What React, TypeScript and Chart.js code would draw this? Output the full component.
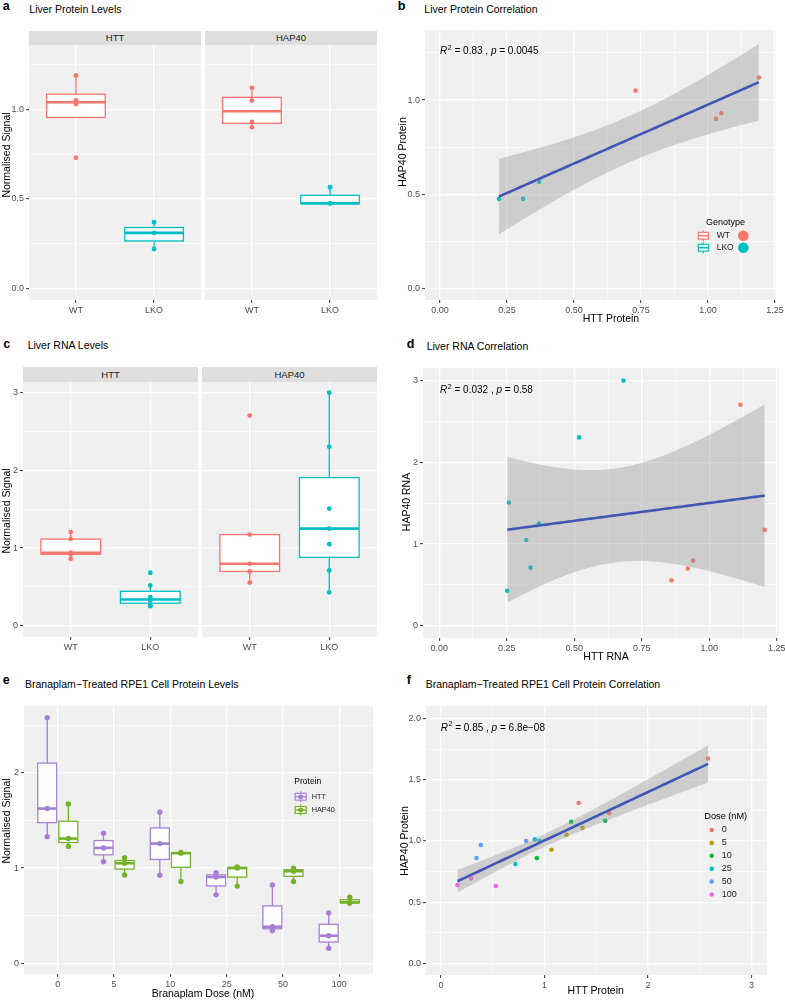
import React, { useEffect, useRef } from "react";
import { Chart, registerables } from "chart.js";

Chart.register(...registerables);

const FONT = "'Liberation Sans', Arial, Helvetica, sans-serif";

// ================= DATA =================
const GENOTYPES = ["WT", "LKO"];
// a / b : liver protein (paired per animal: HTT[i] <-> HAP40[i])
const PROT_HTT_WT = [0.73, 1.03, 1.05, 1.19];
const PROT_HAP40_WT = [1.05, 0.9, 0.93, 1.12];
const PROT_HTT_LKO = [0.22, 0.31, 0.37];
const PROT_HAP40_LKO = [0.475, 0.475, 0.565];
// c / d : liver RNA
const RNA_HTT_WT = [0.86, 0.92, 0.94, 1.115, 1.205];
const RNA_HAP40_WT = [0.556, 0.699, 0.797, 2.705, 1.173];
const RNA_HTT_LKO = [0.252, 0.258, 0.322, 0.338, 0.369, 0.518, 0.682];
const RNA_HAP40_LKO = [0.429, 1.508, 1.05, 0.711, 1.25, 2.305, 3.0];
// e / f : branaplam-treated RPE1 cells
const DOSES = ["0", "5", "10", "25", "50", "100"];
const CELL_HTT = [
  [2.58, 1.33, 1.625],
  [1.067, 1.212, 1.366],
  [1.257, 1.586, 0.925],
  [0.719, 0.906, 0.951],
  [0.822, 0.384, 0.342],
  [0.158, 0.29, 0.529],
];
const CELL_HAP40 = [
  [1.674, 1.31, 1.228],
  [0.928, 1.051, 1.108],
  [1.157, 1.165, 0.86],
  [0.811, 1.013, 1.0],
  [0.999, 0.967, 0.86],
  [0.64, 0.694, 0.632],
];
const CORR_B = ["0.83", "0.0045"];
const CORR_D = ["0.032", "0.58"];
const CORR_F = ["0.85", "6.8e\u221208"];
// Student t 0.975 quantiles for df = n - 2
const T_B = 2.5706;
const T_D = 2.2281;
const T_F = 2.1199;

// ================= STYLE =================
const C_WT = "#F8766D";
const C_LKO = "#00BFC4";
const C_HTT = "#A580D4";
const C_HAP = "#74B22A";
const DOSE_COLORS = ["#F8766D", "#B79F00", "#00BA38", "#00BFC4", "#619CFF", "#F564E3"];
const FIT = "#3F56B5";
const BAND = "rgba(153,153,153,0.4)";
const PANEL_BG = "#F0F0F0";
const STRIP_BG = "#DEDEDE";

const YW = 40; // y axis box width
const XH = 22; // x axis box height
const PT = 10; // top padding
const PR = 14; // right padding

type Axis = {
  min: number;
  max: number;
  major: number[];
  minor: number[];
  fmt: (v: number) => string;
  labels?: boolean;
  ticks?: boolean;
};
type Box = { x: number; hw: number; vals: number[]; color: string };
type LegendItem = { label: string; color: string; y: number };
type Legend = {
  title: string;
  titleX: number;
  titleY: number;
  titleSize: number;
  keyX: number;
  labelX: number;
  labelSize: number;
  key: "box" | "boxdot" | "dot";
  keyW: number;
  keyH: number;
  circleX?: number;
  items: LegendItem[];
};
type Spec = {
  key: string;
  area: [number, number, number, number];
  x: Axis;
  y: Axis;
  datasets: any[];
  boxes?: Box[];
  stat?: { x: number; y: number; r2: string; p: string };
  legend?: Legend;
};

// ================= HELPERS =================
function quant(s: number[], p: number) {
  const h = (s.length - 1) * p;
  const lo = Math.floor(h);
  const hi = Math.min(lo + 1, s.length - 1);
  return s[lo] + (h - lo) * (s[hi] - s[lo]);
}
function boxStats(vals: number[]) {
  const s = [...vals].sort((a, b) => a - b);
  const q1 = quant(s, 0.25);
  const med = quant(s, 0.5);
  const q3 = quant(s, 0.75);
  const iqr = q3 - q1;
  const inside = s.filter((v) => v >= q1 - 1.5 * iqr && v <= q3 + 1.5 * iqr);
  return { q1, med, q3, wl: Math.min(...inside), wh: Math.max(...inside) };
}
const at = (x: number, ys: number[]) => ys.map((y) => ({ x, y }));
const pair = (xs: number[], ys: number[]) => xs.map((x, i) => ({ x, y: ys[i] }));
function pointSet(data: any[], color: string, r: number) {
  return {
    type: "scatter",
    data,
    backgroundColor: color,
    borderColor: "rgba(0,0,0,0)",
    pointRadius: r,
    pointHoverRadius: r,
    pointBorderWidth: 0,
    order: 2,
  };
}
function fitSets(xs: number[], ys: number[], t: number) {
  const n = xs.length;
  const mx = xs.reduce((a, b) => a + b, 0) / n;
  const my = ys.reduce((a, b) => a + b, 0) / n;
  let sxx = 0;
  let sxy = 0;
  xs.forEach((x, i) => {
    sxx += (x - mx) ** 2;
    sxy += (x - mx) * (ys[i] - my);
  });
  const b = sxy / sxx;
  const a = my - b * mx;
  let sse = 0;
  xs.forEach((x, i) => (sse += (ys[i] - a - b * x) ** 2));
  const s = Math.sqrt(sse / (n - 2));
  const lo = Math.min(...xs);
  const hi = Math.max(...xs);
  const line: any[] = [];
  const up: any[] = [];
  const dn: any[] = [];
  for (let k = 0; k <= 80; k++) {
    const x = lo + ((hi - lo) * k) / 80;
    const yh = a + b * x;
    const se = s * Math.sqrt(1 / n + (x - mx) ** 2 / sxx);
    line.push({ x, y: yh });
    up.push({ x, y: yh + t * se });
    dn.push({ x, y: yh - t * se });
  }
  return [
    { type: "line", data: line, borderColor: FIT, borderWidth: 2.6, pointRadius: 0, fill: false, tension: 0, order: 0 },
    { type: "line", data: up, borderColor: "rgba(0,0,0,0)", borderWidth: 0, pointRadius: 0, fill: "+1", backgroundColor: BAND, tension: 0, order: 1 },
    { type: "line", data: dn, borderColor: "rgba(0,0,0,0)", borderWidth: 0, pointRadius: 0, fill: false, tension: 0, order: 1 },
  ];
}

const f1 = (v: number) => v.toFixed(1);
const f2 = (v: number) => v.toFixed(2);
const f0 = (v: number) => String(Math.round(v));

// ================= PANELS =================
const yA: Axis = { min: -0.065, max: 1.36, major: [0, 0.5, 1], minor: [0.25, 0.75, 1.25], fmt: f1 };
const yC: Axis = { min: -0.145, max: 3.137, major: [0, 1, 2, 3], minor: [0.5, 1.5, 2.5], fmt: f0 };
const xGeno: Axis = { min: 0.4, max: 2.6, major: [1, 2], minor: [], fmt: (v) => GENOTYPES[Math.round(v) - 1] };

function facet(key: string, area: [number, number, number, number], y: Axis, showY: boolean, wt: number[], lko: number[]): Spec {
  return {
    key,
    area,
    x: xGeno,
    y: { ...y, labels: showY, ticks: showY },
    datasets: [pointSet(at(1, wt), C_WT, 2.4), pointSet(at(2, lko), C_LKO, 2.4)],
    boxes: [
      { x: 1, hw: 0.375, vals: wt, color: C_WT },
      { x: 2, hw: 0.375, vals: lko, color: C_LKO },
    ],
  };
}

const genoLegend: Legend = {
  title: "Genotype",
  titleX: 706,
  titleY: 223,
  titleSize: 9,
  keyX: 703.3,
  labelX: 716.7,
  labelSize: 8.5,
  key: "box",
  keyW: 10,
  keyH: 11,
  circleX: 743.3,
  items: [
    { label: GENOTYPES[0], color: C_WT, y: 235.7 },
    { label: GENOTYPES[1], color: C_LKO, y: 247.7 },
  ],
};

const cellAllHTT = CELL_HTT.flat();
const cellAllHAP = CELL_HAP40.flat();

const PANELS: Spec[] = [
  facet("aHTT", [29, 45, 201, 300], yA, true, PROT_HTT_WT, PROT_HTT_LKO),
  facet("aHAP", [205, 45, 377, 300], yA, false, PROT_HAP40_WT, PROT_HAP40_LKO),
  {
    key: "b",
    area: [425, 30, 776, 300],
    x: { min: -0.056, max: 1.254, major: [0, 0.25, 0.5, 0.75, 1, 1.25], minor: [0.125, 0.375, 0.625, 0.875, 1.125], fmt: f2 },
    y: { min: -0.062, max: 1.372, major: [0, 0.5, 1], minor: [0.25, 0.75, 1.25], fmt: f1 },
    datasets: [
      ...fitSets([...PROT_HTT_WT, ...PROT_HTT_LKO], [...PROT_HAP40_WT, ...PROT_HAP40_LKO], T_B),
      pointSet(pair(PROT_HTT_WT, PROT_HAP40_WT), C_WT, 2.3),
      pointSet(pair(PROT_HTT_LKO, PROT_HAP40_LKO), C_LKO, 2.3),
    ],
    stat: { x: 440, y: 50.5, r2: CORR_B[0], p: CORR_B[1] },
    legend: genoLegend,
  },
  facet("cHTT", [23, 382, 198, 637], yC, true, RNA_HTT_WT, RNA_HTT_LKO),
  facet("cHAP", [202, 382, 377, 637], yC, false, RNA_HAP40_WT, RNA_HAP40_LKO),
  {
    key: "d",
    area: [423, 368, 779, 638],
    x: { min: -0.06, max: 1.258, major: [0, 0.25, 0.5, 0.75, 1, 1.25], minor: [0.125, 0.375, 0.625, 0.875, 1.125], fmt: f2 },
    y: { min: -0.15, max: 3.154, major: [0, 1, 2, 3], minor: [0.5, 1.5, 2.5], fmt: f0 },
    datasets: [
      ...fitSets([...RNA_HTT_WT, ...RNA_HTT_LKO], [...RNA_HAP40_WT, ...RNA_HAP40_LKO], T_D),
      pointSet(pair(RNA_HTT_WT, RNA_HAP40_WT), C_WT, 2.3),
      pointSet(pair(RNA_HTT_LKO, RNA_HAP40_LKO), C_LKO, 2.3),
    ],
    stat: { x: 440, y: 389.2, r2: CORR_D[0], p: CORR_D[1] },
  },
  {
    key: "e",
    area: [24, 706, 373, 974],
    x: { min: 0.4, max: DOSES.length + 0.6, major: DOSES.map((_, i) => i + 1), minor: [], fmt: (v) => DOSES[Math.round(v) - 1] },
    y: { min: -0.112, max: 2.702, major: [0, 1, 2], minor: [0.5, 1.5, 2.5], fmt: f0 },
    datasets: [
      ...CELL_HTT.map((vals, i) => pointSet(at(i + 1 - 0.1875, vals), C_HTT, 2.7)),
      ...CELL_HAP40.map((vals, i) => pointSet(at(i + 1 + 0.1875, vals), C_HAP, 2.7)),
    ],
    boxes: [
      ...CELL_HTT.map((vals, i) => ({ x: i + 1 - 0.1875, hw: 0.16875, vals, color: C_HTT })),
      ...CELL_HAP40.map((vals, i) => ({ x: i + 1 + 0.1875, hw: 0.16875, vals, color: C_HAP })),
    ],
    legend: {
      title: "Protein",
      titleX: 294.3,
      titleY: 781.7,
      titleSize: 8.5,
      keyX: 300.7,
      labelX: 311.7,
      labelSize: 7.3,
      key: "boxdot",
      keyW: 11,
      keyH: 11,
      items: [
        { label: "HTT", color: C_HTT, y: 796.7 },
        { label: "HAP40", color: C_HAP, y: 810 },
      ],
    },
  },
  {
    key: "f",
    area: [426, 706, 767, 975],
    x: { min: -0.146, max: 3.15, major: [0, 1, 2, 3], minor: [0.5, 1.5, 2.5], fmt: f0 },
    y: { min: -0.095, max: 2.103, major: [0, 0.5, 1, 1.5, 2], minor: [0.25, 0.75, 1.25, 1.75], fmt: f1 },
    datasets: [
      ...fitSets(cellAllHTT, cellAllHAP, T_F),
      ...CELL_HTT.map((vals, i) => pointSet(pair(vals, CELL_HAP40[i]), DOSE_COLORS[i], 2.3)),
    ],
    stat: { x: 440.7, y: 727, r2: CORR_F[0], p: CORR_F[1] },
    legend: {
      title: "Dose (nM)",
      titleX: 704.3,
      titleY: 816.7,
      titleSize: 9.2,
      keyX: 711.7,
      labelX: 721.7,
      labelSize: 9,
      key: "dot",
      keyW: 0,
      keyH: 0,
      items: DOSES.map((d, i) => ({ label: d, color: DOSE_COLORS[i], y: 830 + i * 12.9 })),
    },
  },
];

// ================= CHART BUILDING =================
function axisOpts(a: Axis, which: "x" | "y") {
  const isMajor = (v: number) => a.major.some((m) => Math.abs(m - v) < 1e-9);
  const showLabels = a.labels !== false;
  const showTicks = a.ticks !== false;
  return {
    type: "linear",
    position: which === "x" ? "bottom" : "left",
    min: a.min,
    max: a.max,
    afterBuildTicks: (s: any) => {
      s.ticks = [...a.major, ...a.minor].sort((p, q) => p - q).map((v) => ({ value: v }));
    },
    afterFit: (s: any) => {
      if (which === "x") s.height = XH;
      else s.width = YW;
    },
    ticks: {
      display: showLabels,
      autoSkip: false,
      maxRotation: 0,
      minRotation: 0,
      padding: 2,
      color: "#4D4D4D",
      font: { size: 9, family: FONT },
      callback: (v: any) => (isMajor(Number(v)) ? a.fmt(Number(v)) : ""),
    },
    grid: {
      display: true,
      drawOnChartArea: true,
      drawTicks: showTicks,
      tickLength: 3,
      tickWidth: 1,
      color: "#FFFFFF",
      lineWidth: (c: any) => (c.tick && isMajor(c.tick.value) ? 1.3 : 0.6),
      tickColor: (c: any) => (c.tick && isMajor(c.tick.value) ? "#333333" : "rgba(0,0,0,0)"),
    },
    border: { display: false },
  };
}

function drawBoxKey(ctx: CanvasRenderingContext2D, cx: number, cy: number, w: number, h: number, color: string, dot: boolean) {
  ctx.strokeStyle = color;
  ctx.lineWidth = 1.2;
  ctx.beginPath();
  ctx.moveTo(cx, cy - h / 2);
  ctx.lineTo(cx, cy + h / 2);
  ctx.stroke();
  const bh = h * 0.62;
  ctx.fillStyle = "#FFFFFF";
  ctx.fillRect(cx - w / 2, cy - bh / 2, w, bh);
  ctx.strokeRect(cx - w / 2, cy - bh / 2, w, bh);
  ctx.lineWidth = 1.6;
  ctx.beginPath();
  ctx.moveTo(cx - w / 2, cy);
  ctx.lineTo(cx + w / 2, cy);
  ctx.stroke();
  if (dot) {
    ctx.fillStyle = color;
    ctx.beginPath();
    ctx.arc(cx, cy, 2.5, 0, Math.PI * 2);
    ctx.fill();
  }
}

function makeDeco(spec: Spec, ox: number, oy: number) {
  return {
    id: "deco",
    beforeDraw(chart: any) {
      const { ctx, chartArea: a } = chart;
      ctx.save();
      ctx.fillStyle = PANEL_BG;
      ctx.fillRect(a.left, a.top, a.right - a.left, a.bottom - a.top);
      ctx.restore();
    },
    beforeDatasetsDraw(chart: any) {
      if (!spec.boxes) return;
      const { ctx, chartArea: a, scales } = chart;
      const xs = scales.x;
      const ys = scales.y;
      ctx.save();
      ctx.beginPath();
      ctx.rect(a.left, a.top, a.right - a.left, a.bottom - a.top);
      ctx.clip();
      for (const b of spec.boxes) {
        const st = boxStats(b.vals);
        const px = xs.getPixelForValue(b.x);
        const l = xs.getPixelForValue(b.x - b.hw);
        const r = xs.getPixelForValue(b.x + b.hw);
        const y1 = ys.getPixelForValue(st.q1);
        const y3 = ys.getPixelForValue(st.q3);
        const ym = ys.getPixelForValue(st.med);
        ctx.strokeStyle = b.color;
        ctx.lineWidth = 1.3;
        ctx.beginPath();
        ctx.moveTo(px, y3);
        ctx.lineTo(px, ys.getPixelForValue(st.wh));
        ctx.moveTo(px, y1);
        ctx.lineTo(px, ys.getPixelForValue(st.wl));
        ctx.stroke();
        ctx.fillStyle = "#FFFFFF";
        ctx.fillRect(l, y3, r - l, y1 - y3);
        ctx.strokeRect(l, y3, r - l, y1 - y3);
        ctx.lineWidth = 2.6;
        ctx.beginPath();
        ctx.moveTo(l, ym);
        ctx.lineTo(r, ym);
        ctx.stroke();
      }
      ctx.restore();
    },
    afterDatasetsDraw(chart: any) {
      const ctx: CanvasRenderingContext2D = chart.ctx;
      ctx.save();
      if (spec.stat) {
        const st = spec.stat;
        let x = st.x - ox;
        const base = st.y - oy + 3.6;
        ctx.fillStyle = "#000000";
        ctx.textBaseline = "alphabetic";
        ctx.textAlign = "left";
        const parts: Array<[string, string, number]> = [
          ["R", `italic 10px ${FONT}`, 0],
          ["2", `7px ${FONT}`, -4.3],
          [` = ${st.r2} , `, `10px ${FONT}`, 0],
          ["p", `italic 10px ${FONT}`, 0],
          [` = ${st.p}`, `10px ${FONT}`, 0],
        ];
        for (const [t, f, dy] of parts) {
          ctx.font = f;
          if (t === "2") x += 0.6;
          ctx.fillText(t, x, base + dy);
          x += ctx.measureText(t).width;
        }
      }
      if (spec.legend) {
        const L = spec.legend;
        ctx.textBaseline = "middle";
        ctx.textAlign = "left";
        ctx.fillStyle = "#000000";
        ctx.font = `${L.titleSize}px ${FONT}`;
        ctx.fillText(L.title, L.titleX - ox, L.titleY - oy);
        for (const it of L.items) {
          const cy = it.y - oy;
          const kx = L.keyX - ox;
          if (L.key === "dot") {
            ctx.fillStyle = it.color;
            ctx.beginPath();
            ctx.arc(kx, cy, 2.3, 0, Math.PI * 2);
            ctx.fill();
          } else {
            drawBoxKey(ctx, kx, cy, L.keyW, L.keyH, it.color, L.key === "boxdot");
          }
          if (L.circleX !== undefined) {
            ctx.fillStyle = it.color;
            ctx.beginPath();
            ctx.arc(L.circleX - ox, cy, 5.3, 0, Math.PI * 2);
            ctx.fill();
          }
          ctx.fillStyle = "#1A1A1A";
          ctx.font = `${L.labelSize}px ${FONT}`;
          ctx.fillText(it.label, L.labelX - ox, cy);
        }
      }
      ctx.restore();
    },
  };
}

function PanelChart({ spec }: { spec: Spec }) {
  const ref = useRef<HTMLCanvasElement>(null);
  const [x0, y0, x1, y1] = spec.area;
  const left = x0 - YW;
  const top = y0 - PT;
  const w = x1 - x0 + YW + PR;
  const h = y1 - y0 + PT + XH;
  useEffect(() => {
    const canvas = ref.current;
    if (!canvas) return;
    const chart = new Chart(canvas, {
      type: "scatter",
      data: { datasets: spec.datasets },
      options: {
        animation: false,
        responsive: false,
        events: [],
        layout: { padding: { left: 0, top: PT, right: PR, bottom: 0 } },
        plugins: { legend: { display: false }, tooltip: { enabled: false }, title: { display: false } },
        scales: { x: axisOpts(spec.x, "x"), y: axisOpts(spec.y, "y") },
      },
      plugins: [makeDeco(spec, left, top)],
    } as any);
    return () => chart.destroy();
  }, []);
  return (
    <canvas
      ref={ref}
      width={w}
      height={h}
      style={{ position: "absolute", left, top, width: w, height: h }}
    />
  );
}

// ================= TEXT LAYOUT =================
type TextItem = { t: string; x: number; y: number; s: number; b?: boolean; c?: boolean; r?: boolean };
const TEXTS: TextItem[] = [
  { t: "a", x: 2.7, y: 6.2, s: 12.5, b: true },
  { t: "Liver Protein Levels", x: 29.3, y: 9.2, s: 10.5 },
  { t: "b", x: 397.7, y: 6.2, s: 12.5, b: true },
  { t: "Liver Protein Correlation", x: 424.3, y: 9.2, s: 10.5 },
  { t: "c", x: 3.3, y: 343.8, s: 12.5, b: true },
  { t: "Liver RNA Levels", x: 27.7, y: 344.8, s: 10.5 },
  { t: "d", x: 406.7, y: 343.8, s: 12.5, b: true },
  { t: "Liver RNA Correlation", x: 426.7, y: 346.5, s: 10.5 },
  { t: "e", x: 2.7, y: 680.5, s: 12.5, b: true },
  { t: "Branaplam\u2212Treated RPE1 Cell Protein Levels", x: 25, y: 684.2, s: 10.5 },
  { t: "f", x: 406.7, y: 680.5, s: 12.5, b: true },
  { t: "Branaplam\u2212Treated RPE1 Cell Protein Correlation", x: 425.7, y: 684.7, s: 10.5 },
  // axis titles
  { t: "Normalised Signal", x: 6.3, y: 155, s: 10.5, r: true },
  { t: "HAP40 Protein", x: 401.5, y: 151.5, s: 10.5, r: true },
  { t: "HTT Protein", x: 611, y: 318, s: 10.5, c: true },
  { t: "Normalised Signal", x: 6, y: 510.5, s: 10.5, r: true },
  { t: "HAP40 RNA", x: 405.8, y: 501.7, s: 10.5, r: true },
  { t: "HTT RNA", x: 606, y: 656, s: 10.5, c: true },
  { t: "Normalised Signal", x: 6.3, y: 821, s: 10.5, r: true },
  { t: "Branaplam Dose (nM)", x: 203, y: 993.5, s: 10.5, c: true },
  { t: "HAP40 Protein", x: 404, y: 841, s: 10.5, r: true },
  { t: "HTT Protein", x: 595.7, y: 990, s: 10.5, c: true },
];

type StripItem = { t: string; x0: number; y0: number; x1: number; y1: number };
const STRIPS: StripItem[] = [
  { t: "HTT", x0: 29, y0: 31, x1: 201, y1: 45 },
  { t: "HAP40", x0: 205, y0: 31, x1: 377, y1: 45 },
  { t: "HTT", x0: 23, y0: 367, x1: 198, y1: 382 },
  { t: "HAP40", x0: 202, y0: 367, x1: 377, y1: 382 },
];

export default function App() {
  return (
    <div
      style={{
        position: "absolute",
        left: 0,
        top: 0,
        width: 785,
        height: 1000,
        overflow: "hidden",
        background: "#FFFFFF",
        fontFamily: FONT,
        color: "#000000",
      }}
    >
      {PANELS.map((p) => (
        <PanelChart key={p.key} spec={p} />
      ))}
      {STRIPS.map((s, i) => (
        <div
          key={"s" + i}
          style={{
            position: "absolute",
            left: s.x0,
            top: s.y0,
            width: s.x1 - s.x0,
            height: s.y1 - s.y0,
            background: STRIP_BG,
            color: "#1A1A1A",
            fontSize: 9.5,
            fontWeight: 400,
            lineHeight: `${s.y1 - s.y0}px`,
            textAlign: "center",
          }}
        >
          {s.t}
        </div>
      ))}
      {TEXTS.map((t, i) => (
        <div
          key={"t" + i}
          style={{
            position: "absolute",
            left: t.x,
            top: t.r ? t.y : t.y - t.s / 2,
            fontSize: t.s,
            lineHeight: `${t.s}px`,
            fontWeight: t.b ? 700 : 400,
            whiteSpace: "nowrap",
            transform: t.r ? "translate(-50%, -50%) rotate(-90deg)" : t.c ? "translateX(-50%)" : undefined,
          }}
        >
          {t.t}
        </div>
      ))}
    </div>
  );
}
